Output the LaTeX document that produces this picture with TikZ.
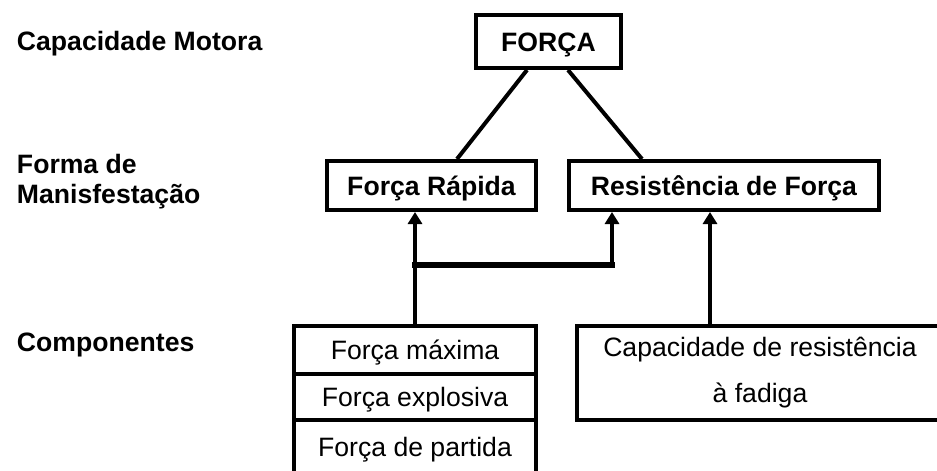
\documentclass[tikz,border=0pt]{standalone}
\usepackage{fontspec}
\setmainfont{Liberation Sans}
\usetikzlibrary{arrows.meta,calc}

\begin{document}
\begin{tikzpicture}[x=0.5pt,y=-0.5pt,line width=2pt,
      >={Triangle[width=7pt,length=6pt]},
      rotulo/.style={font=\fontsize{13.3}{15}\selectfont\bfseries,align=left,inner sep=0pt},
      caixa/.style={draw,inner sep=0pt,text height=9.5pt,text depth=0pt,
        font=\fontsize{13.3}{15}\selectfont},
      titulo/.style={caixa,font=\fontsize{13.3}{15}\selectfont\bfseries}]
      \useasboundingbox (0,0) rectangle (937,471);

      % niveis
      \node[rotulo,anchor=base west] (capac) at (15,50)  {Capacidade Motora};
      \node[rotulo,anchor=base west] (forma) at (15,203) {Forma de\\Manisfestação};
      \node[rotulo,anchor=base west] (compo) at (15,351) {Componentes};

      \node[titulo,minimum width=72.5pt,minimum height=26.5pt] (forca)  at (548.5,41.5) {FORÇA};
      \node[titulo,minimum width=104.5pt,minimum height=24.5pt] (rapida) at (431.5,185.5) {Força Rápida};
      \node[titulo,minimum width=155pt,minimum height=24.5pt]   (resist) at (724,185.5)   {Resistência de Força};

      \node[caixa,minimum width=121pt,minimum height=24pt] (maxima)    at (415,350) {Força máxima};
      \node[caixa,minimum width=121pt,minimum height=23pt] (explosiva) at (415,397) {Força explosiva};
      \node[caixa,minimum width=121pt,minimum height=27pt] (partida)   at (415,447) {Força de partida};

      \node[draw,inner sep=0pt,align=center,font=\fontsize{13.3}{23}\selectfont,
        minimum width=183pt,minimum height=47pt] (fadiga) at (760,373)
        {Capacidade de resistência\\à fadiga};

      \draw ($(forca.south)+(-21.5,0)$) -- ($(rapida.north)+(25.5,0)$);
      \draw ($(forca.south)+(19.5,0)$)  -- ($(resist.north)+(-82,0)$);

      \coordinate (juncao)  at (415,265);
      \coordinate (juncao2) at (612,265);
      \draw[->] (maxima.north) -- (maxima.north |- rapida.south);
      \draw[line width=3pt,line cap=rect] (juncao) -- (juncao2);
      \draw[->] (juncao2) -- (juncao2 |- resist.south);
      \draw[->] ($(fadiga.north)+(-50,0)$) -- ($(resist.south)+(-14,0)$);
\end{tikzpicture}
\end{document}
